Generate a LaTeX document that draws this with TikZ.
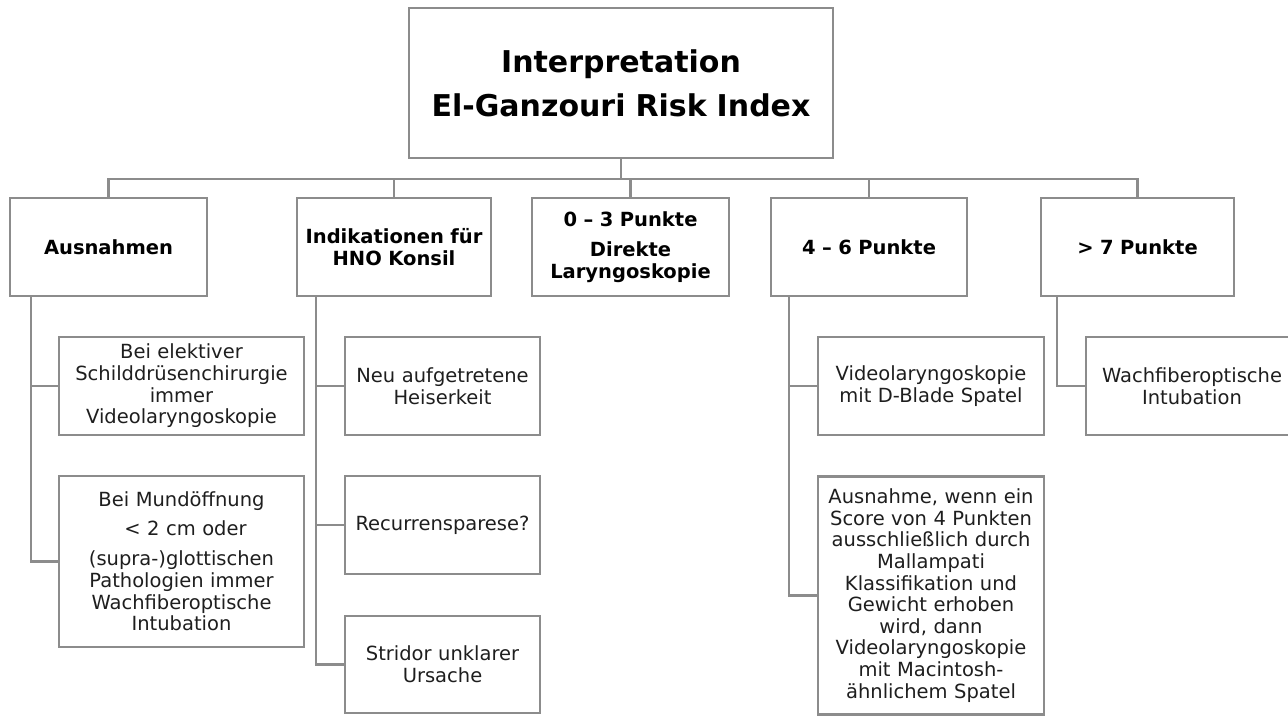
\documentclass[tikz,border=0pt]{standalone}
\usepackage{fontspec}
\setmainfont{DejaVu Sans}
\definecolor{linegray}{RGB}{140,140,140}
\definecolor{txt}{RGB}{30,30,30}
\begin{document}
\begin{tikzpicture}[x=1pt,y=-1pt,
  box/.style={draw=linegray, line width=2.7pt, rectangle, inner sep=0pt, align=center, text=txt,
              font=\fontsize{19.5}{21.6}\selectfont},
  bbox/.style={box, text=black, font=\bfseries\fontsize{19.5}{21.6}\selectfont},
  conn/.style={draw=linegray, line width=2.7pt},
]
\useasboundingbox (0,0) rectangle (1288,716);
\clip (0,0) rectangle (1288,716);

% top
\node[bbox, font=\bfseries\fontsize{30}{44}\selectfont, minimum width=424, minimum height=150, text width=420] (top) at (621,83) {Interpretation\\El-Ganzouri Risk Index};

% level 1
\node[bbox, minimum width=197, minimum height=98, text width=192] (aus) at (108.5,247) {Ausnahmen};
\node[bbox, minimum width=194, minimum height=98, text width=190] (ind) at (394,247) {Indikationen für\\HNO Konsil};
\node[bbox, minimum width=197, minimum height=98, text width=192] (p03) at (630.5,247) {0 – 3 Punkte\\[8.5pt]Direkte\\Laryngoskopie};
\node[bbox, minimum width=196, minimum height=98, text width=192] (p46) at (869,247) {4 – 6 Punkte};
\node[bbox, minimum width=193, minimum height=98, text width=190] (p7) at (1137.5,247) {> 7 Punkte};

% level 2 Ausnahmen
\node[box, minimum width=245, minimum height=98, text width=240] (a1) at (181.5,386) {Bei elektiver\\Schilddrüsenchirurgie\\immer\\Videolaryngoskopie};
\node[box, minimum width=245, minimum height=171, text width=240] (a2) at (181.5,561.5) {Bei Mundöffnung\\[7.5pt]\hspace*{8pt}< 2 cm oder\\[8.5pt](supra-)glottischen\\Pathologien immer\\Wachfiberoptische\\Intubation};

% level 2 Indikationen
\node[box, minimum width=195, minimum height=98, text width=192] (i1) at (442.5,386) {Neu aufgetretene\\Heiserkeit};
\node[box, minimum width=195, minimum height=98, text width=192] (i2) at (442.5,525) {Recurrensparese?};
\node[box, minimum width=195, minimum height=97, text width=192] (i3) at (442.5,664.5) {Stridor unklarer\\Ursache};

% level 2 4-6
\node[box, minimum width=226, minimum height=98, text width=222] (d1) at (931,386) {Videolaryngoskopie\\mit D-Blade Spatel};
\node[box, minimum width=226, minimum height=238, text width=222] (d2) at (931,595.5) {Ausnahme, wenn ein\\Score von 4 Punkten\\ausschließlich durch\\Mallampati\\Klassifikation und\\Gewicht erhoben\\wird, dann\\Videolaryngoskopie\\mit Macintosh-\\ähnlichem Spatel};

% level 2 >7
\node[box, minimum width=212, minimum height=98, text width=208] (w1) at (1192,386) {Wachfiberoptische\\Intubation};

% bus
\coordinate (bus) at (0,179);
\draw[conn] (top.south) -- (top.south |- bus);
\foreach \n in {aus,ind,p03,p46,p7}{
  \draw[conn] (\n.north) |- (top.south |- bus);
}

% trunks
\coordinate (ta) at (31,0);
\coordinate (ti) at (316,0);
\coordinate (t46) at (789,0);
\coordinate (t7) at (1057,0);
\draw[conn] (aus.south -| ta) |- (a1.west);
\draw[conn] (aus.south -| ta) |- (a2.west);
\draw[conn] (ind.south -| ti) |- (i1.west);
\draw[conn] (ind.south -| ti) |- (i2.west);
\draw[conn] (ind.south -| ti) |- (i3.west);
\draw[conn] (p46.south -| t46) |- (d1.west);
\draw[conn] (p46.south -| t46) |- (d2.west);
\draw[conn] (p7.south -| t7) |- (w1.west);
\end{tikzpicture}
\end{document}
